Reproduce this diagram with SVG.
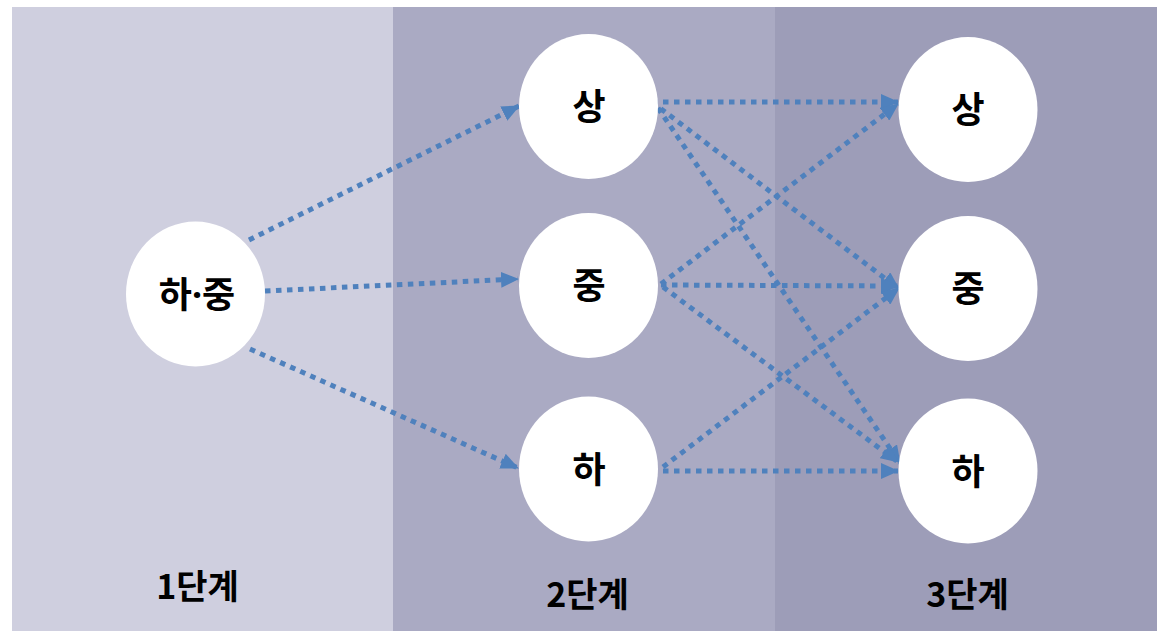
<svg xmlns="http://www.w3.org/2000/svg" width="1157" height="631" viewBox="0 0 1157 631">
<style>
.node{fill:#ffffff}
.lbl{font-family:"Noto Sans CJK KR","Noto Sans",sans-serif;font-weight:700;font-size:36px;fill:#000;text-anchor:middle}
.dot{font-family:"Noto Sans","DejaVu Sans",sans-serif}
.stage{font-family:"Noto Sans CJK KR","Noto Sans",sans-serif;font-weight:700;font-size:34px;fill:#000;text-anchor:middle}
.conn{fill:none;stroke:#4F81BD;stroke-width:5;stroke-dasharray:5.5 5.5;marker-end:url(#arr)}
</style>
<defs>
<marker id="arr" markerUnits="userSpaceOnUse" markerWidth="18" markerHeight="16" refX="17" refY="8" orient="auto" viewBox="0 0 18 16">
<path d="M0,0 L18,8 L0,16 Z" fill="#4F81BD"/>
</marker>
</defs>
<rect x="0" y="0" width="1157" height="631" fill="#ffffff"/>
<g id="panels">
<rect x="12" y="7" width="381" height="624" fill="#CFCFDF"/>
<rect x="393" y="7" width="382" height="624" fill="#AAAAC3"/>
<rect x="775" y="7" width="382" height="624" fill="#9D9DB8"/>
</g>
<g id="connectors">
<path class="conn" d="M249,240 L519,106"/>
<path class="conn" d="M265,291 L518,279"/>
<path class="conn" d="M250,349 L518,468"/>
<path class="conn" d="M652,102 L898,102"/>
<path class="conn" d="M652,102 L899,289"/>
<path class="conn" d="M658,108 L900,463"/>
<path class="conn" d="M661,284 L898,104"/>
<path class="conn" d="M661,285 L898,286"/>
<path class="conn" d="M663,287 L898,462"/>
<path class="conn" d="M663,467 L899,288"/>
<path class="conn" d="M663,471 L898,471"/>
</g>
<g id="node-hajung">
<ellipse class="node" cx="195.5" cy="294" rx="69.5" ry="72.5"/>
<text class="lbl" x="197" y="307.5">하<tspan class="dot">·</tspan>중</text>
</g>
<g id="node-s2-sang">
<ellipse class="node" cx="588.5" cy="106.5" rx="69.5" ry="72.5"/>
<text class="lbl" x="589" y="120">상</text>
</g>
<g id="node-s2-jung">
<ellipse class="node" cx="588.5" cy="285.5" rx="69.5" ry="72.5"/>
<text class="lbl" x="589" y="299">중</text>
</g>
<g id="node-s2-ha">
<ellipse class="node" cx="588.5" cy="469" rx="69.5" ry="72.5"/>
<text class="lbl" x="589" y="482.5">하</text>
</g>
<g id="node-s3-sang">
<ellipse class="node" cx="968" cy="109.5" rx="69.5" ry="72.5"/>
<text class="lbl" x="968" y="123">상</text>
</g>
<g id="node-s3-jung">
<ellipse class="node" cx="968" cy="288.5" rx="69.5" ry="72.5"/>
<text class="lbl" x="968" y="302">중</text>
</g>
<g id="node-s3-ha">
<ellipse class="node" cx="968" cy="471" rx="69.5" ry="72.5"/>
<text class="lbl" x="968" y="485">하</text>
</g>
<g id="stage-labels">
<text class="stage" x="197.5" y="599">1단계</text>
<text class="stage" x="587.5" y="607">2단계</text>
<text class="stage" x="967.5" y="607">3단계</text>
</g>
</svg>
